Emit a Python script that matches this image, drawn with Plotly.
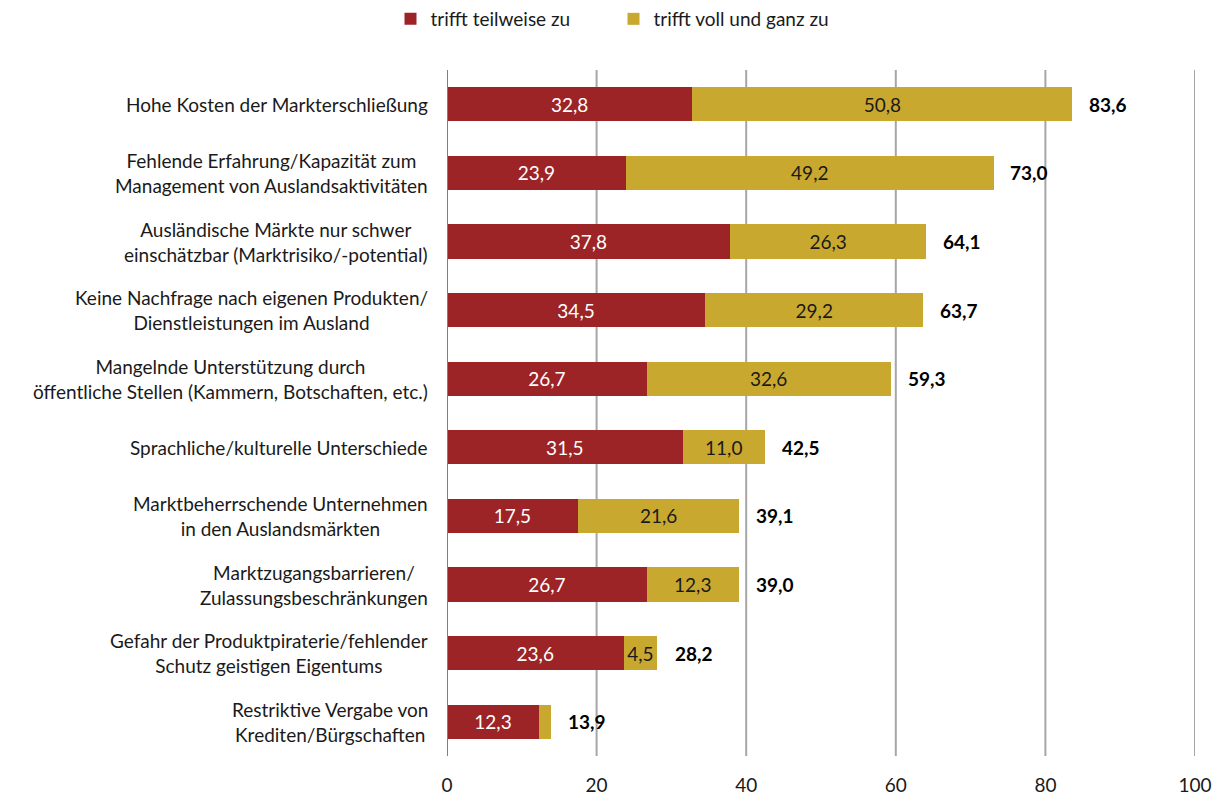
import plotly.graph_objects as go

categories = [
    "Hohe Kosten der Markterschließung",
    "Fehlende Erfahrung/Kapazität zum<br>Management von Auslandsaktivitäten",
    "Ausländische Märkte nur schwer<br>einschätzbar (Marktrisiko/-potential)",
    "Keine Nachfrage nach eigenen Produkten/<br>Dienstleistungen im Ausland",
    "Mangelnde Unterstützung durch<br>öffentliche Stellen (Kammern, Botschaften, etc.)",
    "Sprachliche/kulturelle Unterschiede",
    "Marktbeherrschende Unternehmen<br>in den Auslandsmärkten",
    "Marktzugangsbarrieren/<br>Zulassungsbeschränkungen",
    "Gefahr der Produktpiraterie/fehlender<br>Schutz geistigen Eigentums",
    "Restriktive Vergabe von<br>Krediten/Bürgschaften",
]
teilweise = [32.8, 23.9, 37.8, 34.5, 26.7, 31.5, 17.5, 26.7, 23.6, 12.3]
voll = [50.8, 49.2, 26.3, 29.2, 32.6, 11.0, 21.6, 12.3, 4.5, 1.6]
totals = [83.6, 73.0, 64.1, 63.7, 59.3, 42.5, 39.1, 39.0, 28.2, 13.9]
x_ticks = [0, 20, 40, 60, 80, 100]

RED = "#9C2427"
GOLD = "#C9A830"
FONT = "Lato, Carlito, Calibri, sans-serif"
FS = 19

def fmt(v):
    return f"{v:.1f}".replace(".", ",")

ids = list(range(len(categories)))

fig = go.Figure()
fig.add_trace(go.Bar(
    y=ids, x=teilweise, orientation="h", name="trifft teilweise zu",
    marker=dict(color=RED, line=dict(width=0)),
    text=[fmt(v) for v in teilweise], textposition="inside",
    insidetextanchor="middle", textangle=0,
    textfont=dict(color="white", size=FS, family=FONT),
))
voll_text = [fmt(v) if v >= 3 else "" for v in voll]
fig.add_trace(go.Bar(
    y=ids, x=voll, orientation="h", name="trifft voll und ganz zu",
    marker=dict(color=GOLD, line=dict(width=0)),
    text=voll_text, textposition="inside",
    insidetextanchor="middle", textangle=0,
    textfont=dict(color="#1a1a1a", size=FS, family=FONT),
    constraintext="none",
))

annotations = []
for i, t in zip(ids, totals):
    annotations.append(dict(
        x=t, y=i, xref="x", yref="y", text=f"<b>{fmt(t)}</b>",
        showarrow=False, xanchor="left", yanchor="middle", xshift=15,
        font=dict(size=FS, color="black", family=FONT),
    ))
for i, c in zip(ids, categories):
    annotations.append(dict(
        x=0, y=i, xref="paper", yref="y", text=c, align="center",
        showarrow=False, xanchor="right", yanchor="middle", xshift=-17,
        font=dict(size=FS, color="#1a1a1a", family=FONT),
    ))

grid_shapes = [
    dict(type="line", xref="x", yref="paper", x0=v, x1=v, y0=0, y1=1,
         line=dict(color="#A6A6A6", width=2), layer="below")
    for v in x_ticks[1:]
]
grid_shapes.append(dict(type="line", xref="x", yref="paper", x0=0, x1=0, y0=0, y1=1,
                        line=dict(color="#808080", width=2), layer="above"))

fig.update_layout(
    barmode="stack",
    bargap=0.5,
    width=1227, height=796,
    margin=dict(l=447, r=32, t=70, b=40, autoexpand=False),
    plot_bgcolor="white", paper_bgcolor="white",
    font=dict(family=FONT, size=FS, color="#1a1a1a"),
    uniformtext=dict(minsize=10, mode="show"),
    legend=dict(
        orientation="h", x=0.5, xref="container", xanchor="center",
        y=1.0, yref="container", yanchor="top",
        font=dict(size=FS, family=FONT), itemwidth=30,
        entrywidth=178, traceorder="normal",
    ),
    xaxis=dict(
        range=[0, 100], tickvals=x_ticks, ticktext=[str(v) for v in x_ticks],
        showgrid=False, zeroline=False, showline=False, ticks="",
        ticklabelstandoff=16, automargin=False,
        tickfont=dict(size=FS, family=FONT, color="#1a1a1a"),
    ),
    yaxis=dict(
        range=[len(categories) - 0.5, -0.5], showticklabels=False,
        showgrid=False, zeroline=False, showline=False, ticks="",
        automargin=False,
    ),
    annotations=annotations,
    shapes=grid_shapes,
)

fig.write_html("out.html")
